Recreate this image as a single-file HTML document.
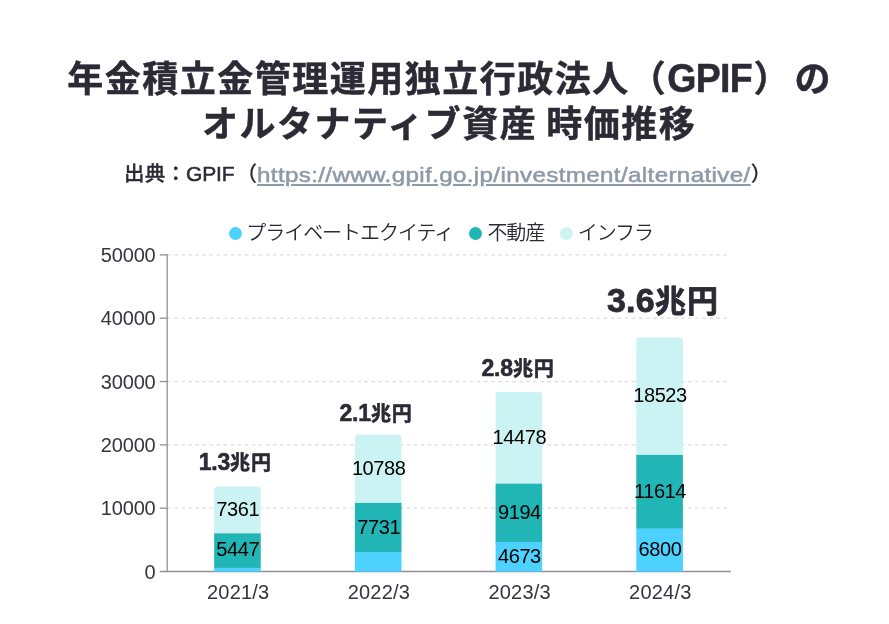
<!DOCTYPE html>
<html lang="ja">
<head>
<meta charset="utf-8">
<title>GPIF オルタナティブ資産 時価推移</title>
<style>
  html, body { margin: 0; padding: 0; background: #ffffff; }
  body { width: 889px; height: 624px; position: relative; overflow: hidden;
         font-family: "Liberation Sans", "Noto Sans CJK JP", sans-serif; color: #2b2a35; }
  .title { position: absolute; left: 0; top: 57px; width: 889px; height: 90px; margin: 0;
           font-size: 36px; line-height: 45px; font-weight: 700; color: #2b2a35; letter-spacing: 1.5px;
           -webkit-text-stroke: 0.45px #2b2a35; white-space: nowrap; }
  .title .l1 { position: absolute; left: 67.3px; top: 0; display: block; }
  .title .l2 { position: absolute; left: 202px; top: 45px; display: block; word-spacing: -2.7px; }
  .title .lat { display: inline-block; font-size: 37.5px; letter-spacing: -0.7px; transform: scaleY(1.08); transform-origin: 0 79%; }
  .title .pr { margin-left: 1.5px; letter-spacing: 5px; }
  .sub { position: absolute; left: 0; top: 160px; width: 889px; height: 28px; margin: 0;
         font-size: 20.5px; line-height: 28px; font-weight: 500; color: #2b2a35; white-space: nowrap; }
  .sub span, .sub a { position: absolute; top: 0; display: block; }
  .sub a { top: 0.5px; }
  .sub .s1 { left: 123.9px; letter-spacing: 0.25px; -webkit-text-stroke: 0.3px #2b2a35; }
  .sub .lat { left: 186.1px; font-size: 21px; letter-spacing: -0.2px; -webkit-text-stroke: 0.5px #2b2a35; }
  .sub .p1 { left: 236.4px; -webkit-text-stroke: 0.2px #2b2a35; }
  .sub .p2 { left: 750.8px; -webkit-text-stroke: 0.2px #2b2a35; }
  .sub a { left: 257.4px; transform: scaleX(1.18); transform-origin: 0 50%; font-size: 20.5px; letter-spacing: 0.3px;
           color: #8e99a8; -webkit-text-stroke: 0.5px #8e99a8;
           text-decoration: underline; text-decoration-thickness: 1.6px; text-underline-offset: 1.6px; }
  .legend { position: absolute; left: 0; top: 219px; width: 889px; height: 28px; margin: 0; padding: 0; list-style: none;
            font-size: 20px; line-height: 28px; font-weight: 350; color: #2b2a35; white-space: nowrap; letter-spacing: -1.05px; }
  .legend li { position: absolute; top: 0; display: block; }
  .legend i { position: absolute; top: 7.5px; width: 13px; height: 13px; border-radius: 50%; display: block; }
  .legend span { position: absolute; top: 0; }
  svg { position: absolute; left: 0; top: 0; }
  svg text { font-family: "Liberation Sans", "Noto Sans CJK JP", sans-serif; }
  .tick { font-size: 20px; fill: #35353d; letter-spacing: -0.15px; }
  .val { font-size: 20px; fill: #000000; letter-spacing: -0.4px; }
  .ann { font-size: 20px; font-weight: 700; fill: #2b2a35; stroke: #2b2a35; stroke-width: 0.55px; stroke-linejoin: round; }
  .ann .d { font-size: 23px; letter-spacing: -0.2px; }
  .ann .c { letter-spacing: 0.8px; }
  .ann .big { font-size: 31px; stroke-width: 0.8px; }
  .ann .big .d { font-size: 34px; letter-spacing: 0.3px; }
</style>
</head>
<body>
<h1 class="title"><span class="l1">年金積立金管理運用独立行政法人（<span class="lat">GPIF</span><span class="pr">）</span>の</span><span class="l2">オルタナティブ資産 時価推移</span></h1>
<p class="sub"><span class="s1">出典：</span><span class="lat">GPIF</span><span class="p1">（</span><a>https://www.gpif.go.jp/investment/alternative/</a><span class="p2">）</span></p>

<ul class="legend">
  <li><i style="left:229.4px;background:#4cd3ff"></i><span style="left:246.3px">プライベートエクイティ</span></li>
  <li><i style="left:469.2px;background:#22b5b5"></i><span style="left:487.4px">不動産</span></li>
  <li><i style="left:559.5px;background:#cdf3f3"></i><span style="left:577.8px">インフラ</span></li>
</ul>

<svg width="889" height="624" viewBox="0 0 889 624" xmlns="http://www.w3.org/2000/svg">
  <!-- gridlines -->
  <g stroke="#dddddd" stroke-width="1.2" stroke-dasharray="3.7 3.338" fill="none">
    <line x1="167.22" y1="254.9" x2="729" y2="254.9"/>
    <line x1="167.22" y1="318.22" x2="729" y2="318.22"/>
    <line x1="167.22" y1="381.54" x2="729" y2="381.54"/>
    <line x1="167.22" y1="444.86" x2="729" y2="444.86"/>
    <line x1="167.22" y1="508.18" x2="729" y2="508.18"/>
  </g>
  <!-- axes -->
  <g stroke="#8f8f96" stroke-width="1.3" fill="none">
    <line x1="167.2" y1="254.25" x2="167.2" y2="572.15"/>
    <line x1="159.8" y1="571.5" x2="730.8" y2="571.5"/>
    <line x1="159.8" y1="254.9" x2="167.2" y2="254.9"/>
    <line x1="159.8" y1="318.22" x2="167.2" y2="318.22"/>
    <line x1="159.8" y1="381.54" x2="167.2" y2="381.54"/>
    <line x1="159.8" y1="444.86" x2="167.2" y2="444.86"/>
    <line x1="159.8" y1="508.18" x2="167.2" y2="508.18"/>
  </g>
  <!-- bars -->
  <g>
    <!-- 2021/3 -->
    <path d="M214.15 533.84V489.73a3 3 0 0 1 3-3h40.6a3 3 0 0 1 3 3V533.84Z" fill="#ccf3f3"/>
    <rect x="214.15" y="533.34" width="46.6" height="34.99" fill="#22b5b5"/>
    <rect x="214.15" y="567.83" width="46.6" height="3.77" fill="#4dd2ff"/>
    <!-- 2022/3 -->
    <path d="M354.87 503.42V437.61a3 3 0 0 1 3-3h40.6a3 3 0 0 1 3 3V503.42Z" fill="#ccf3f3"/>
    <rect x="354.87" y="502.92" width="46.6" height="49.45" fill="#22b5b5"/>
    <rect x="354.87" y="551.87" width="46.6" height="19.73" fill="#4dd2ff"/>
    <!-- 2023/3 -->
    <path d="M495.58 484.19V395.02a3 3 0 0 1 3-3h40.6a3 3 0 0 1 3 3V484.19Z" fill="#ccf3f3"/>
    <rect x="495.58" y="483.69" width="46.6" height="58.72" fill="#22b5b5"/>
    <rect x="495.58" y="541.91" width="46.6" height="29.69" fill="#4dd2ff"/>
    <!-- 2024/3 -->
    <path d="M636.3 455.4V340.61a3 3 0 0 1 3-3h40.6a3 3 0 0 1 3 3V455.4Z" fill="#ccf3f3"/>
    <rect x="636.3" y="454.9" width="46.6" height="74.04" fill="#22b5b5"/>
    <rect x="636.3" y="528.44" width="46.6" height="43.16" fill="#4dd2ff"/>
  </g>
  <!-- y tick labels -->
  <g class="tick" text-anchor="end">
    <text x="155.6" y="261.9">50000</text>
    <text x="155.6" y="325.22">40000</text>
    <text x="155.6" y="388.54">30000</text>
    <text x="155.6" y="451.86">20000</text>
    <text x="155.6" y="515.18">10000</text>
    <text x="155.6" y="578.5">0</text>
  </g>
  <!-- x tick labels -->
  <g class="tick" text-anchor="middle" style="font-size:20px;letter-spacing:0.2px">
    <text x="238.2" y="598.8">2021/3</text>
    <text x="378.9" y="598.8">2022/3</text>
    <text x="519.6" y="598.8">2023/3</text>
    <text x="660.3" y="598.8">2024/3</text>
  </g>
  <!-- value labels -->
  <g class="val" text-anchor="middle">
    <text x="237.8" y="516.2">7361</text>
    <text x="237.8" y="556.3">5447</text>
    <text x="378.7" y="475.2">10788</text>
    <text x="378.7" y="533.9">7731</text>
    <text x="519.4" y="444.0">14478</text>
    <text x="519.4" y="519.2">9194</text>
    <text x="519.4" y="563.2">4673</text>
    <text x="660" y="402.1">18523</text>
    <text x="660" y="497.9">11614</text>
    <text x="660" y="556.4">6800</text>
  </g>
  <!-- annotations -->
  <g class="ann" text-anchor="middle">
    <text x="235.2" y="469.6"><tspan class="d">1.3</tspan><tspan class="c">兆円</tspan></text>
    <text x="376" y="420.6"><tspan class="d">2.1</tspan><tspan class="c">兆円</tspan></text>
    <text x="518" y="375.6"><tspan class="d">2.8</tspan><tspan class="c">兆円</tspan></text>
    <text x="662.8" y="312.3" class="big"><tspan class="d">3.6</tspan><tspan class="c" dy="-0.2">兆円</tspan></text>
  </g>
</svg>
</body>
</html>
